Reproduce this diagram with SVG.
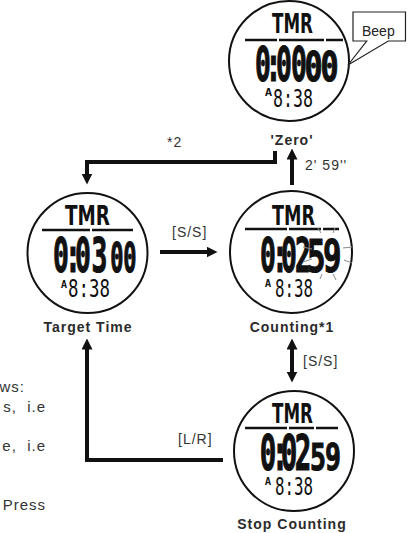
<svg xmlns="http://www.w3.org/2000/svg" width="414" height="533" viewBox="0 0 414 533">
<style>
.ring{fill:#fff;stroke:#111;stroke-width:2}
.tmr{font-family:"DejaVu Sans",sans-serif;font-weight:bold;font-size:27px;fill:#111}
.big{font-family:"DejaVu Sans Mono",monospace;font-weight:bold;font-size:48px;fill:#111;stroke:#111;stroke-width:1.2}
.sm{font-family:"DejaVu Sans Mono",monospace;font-size:24px;fill:#111}
.a{font-family:"DejaVu Sans",sans-serif;font-weight:bold;font-size:11px;fill:#111}
.rule{stroke:#111;stroke-width:2.5}
.ray{stroke:#8a8a8a;stroke-width:1}
.lbl{font-family:"Liberation Sans",Arial,sans-serif;font-weight:bold;font-size:14px;fill:#2b2b2b;letter-spacing:1px;text-anchor:middle}
.txt{font-family:"Liberation Sans",Arial,sans-serif;font-size:14px;fill:#333;letter-spacing:1px}
.frag{font-family:"Liberation Sans",Arial,sans-serif;font-size:15px;fill:#333;letter-spacing:1px;text-anchor:end;white-space:pre}
.wire{fill:none;stroke:#111;stroke-width:4}
.call{fill:#fff;stroke:#222;stroke-width:1.2}
.beep{font-family:"Liberation Sans",Arial,sans-serif;font-size:14px;fill:#222}
</style>
<defs>
<marker id="ah" viewBox="0 0 11 11" refX="0.5" refY="5.5" markerWidth="11" markerHeight="11" markerUnits="userSpaceOnUse" orient="auto-start-reverse"><path d="M0,0 L11,5.5 L0,11 z" fill="#111"/></marker>
</defs>

<g id="connectors">
<path class="wire" d="M275,151 V162 H87 V174" marker-end="url(#ah)"/>
<path class="wire" d="M292,185 V159" marker-end="url(#ah)"/>
<path class="wire" d="M160,252 H207" marker-end="url(#ah)"/>
<path class="wire" d="M292,349 V372" marker-start="url(#ah)" marker-end="url(#ah)"/>
<path class="wire" d="M223,460 H87 V349" marker-end="url(#ah)"/>
<text class="txt" x="167" y="147">*2</text>
<text class="txt" x="305" y="170">2' 59''</text>
<text class="txt" x="172" y="237">[S/S]</text>
<text class="txt" x="303" y="366">[S/S]</text>
<text class="txt" x="178" y="444">[L/R]</text>
</g>

<g id="zero">
<circle class="ring" cx="289" cy="61" r="60"/>
<text class="tmr" x="272" y="33" textLength="41" lengthAdjust="spacingAndGlyphs">TMR</text>
<path class="rule" d="M245,40 H277 M279,40 H324 M326,40 H343"/>
<text class="big" transform="translate(255,81) scale(0.55,1)"><tspan x="0">0</tspan><tspan x="19.3">:</tspan><tspan x="38.2">0</tspan><tspan x="65.5">0</tspan></text>
<text class="big" style="font-size:40px" transform="translate(304.6,81) scale(0.75,1)"><tspan x="0">0</tspan><tspan x="21.3">0</tspan></text>
<text class="a" x="265" y="96" textLength="7" lengthAdjust="spacingAndGlyphs">A</text>
<text class="sm" x="273" y="107" textLength="40" lengthAdjust="spacingAndGlyphs">8:38</text>
<text class="lbl" x="292" y="145">'Zero'</text>
</g>

<g id="beep">
<polygon class="call" points="353,12 405.5,12 405.5,41 388.3,41 348,65 366.7,41 353,41"/>
<text class="beep" x="362" y="36">Beep</text>
</g>

<g id="target">
<circle class="ring" cx="87.5" cy="253" r="60"/>
<text class="tmr" x="65" y="225" textLength="45" lengthAdjust="spacingAndGlyphs">TMR</text>
<path class="rule" d="M42,230 H90 M92,230 H133"/>
<text class="big" transform="translate(53,272) scale(0.55,1)"><tspan x="0">0</tspan><tspan x="22">:</tspan><tspan x="40">0</tspan><tspan x="70">3</tspan><tspan x="104" style="font-size:40px">0</tspan><tspan x="127.6" style="font-size:40px">0</tspan></text>
<text class="a" x="61" y="288" textLength="6" lengthAdjust="spacingAndGlyphs">A</text>
<text class="sm" x="68" y="297" textLength="42" lengthAdjust="spacingAndGlyphs">8:38</text>
<text class="lbl" x="88" y="332">Target Time</text>
</g>

<g id="counting">
<circle class="ring" cx="291" cy="252" r="61"/>
<text class="tmr" x="272" y="225" textLength="43" lengthAdjust="spacingAndGlyphs">TMR</text>
<path class="rule" d="M245,229 H287 M289,229 H321 M323,229 H339"/>
<text class="big" transform="translate(260,272) scale(0.55,1)"><tspan x="0">0</tspan><tspan x="22">:</tspan><tspan x="38.2">0</tspan><tspan x="63.6">2</tspan></text>
<text class="big" style="font-size:44px" transform="translate(307,272) scale(0.7,1)"><tspan x="0">5</tspan><tspan x="22.9">9</tspan></text>
<path class="ray" d="M318,228 L321,233 M335,228 L333,233 M303,247 L312,249 M343,248 L352,247 M303,262 L312,259 M344,260 L352,263 M320,279 L322,274 M333,274 L336,280"/>
<text class="a" x="265" y="287" textLength="6" lengthAdjust="spacingAndGlyphs">A</text>
<text class="sm" x="275" y="297" textLength="38" lengthAdjust="spacingAndGlyphs">8:38</text>
<text class="lbl" x="292" y="332">Counting*1</text>
</g>

<g id="stop">
<circle class="ring" cx="294" cy="451" r="60"/>
<text class="tmr" x="272" y="423" textLength="41" lengthAdjust="spacingAndGlyphs">TMR</text>
<path class="rule" d="M245,428 H287 M289,428 H314 M316,428 H338"/>
<text class="big" style="font-size:50px" transform="translate(259.8,470) scale(0.55,1)"><tspan x="0">0</tspan><tspan x="21.6">:</tspan><tspan x="38.2">0</tspan><tspan x="63.6">2</tspan></text>
<text class="big" style="font-size:38px" transform="translate(309.9,470) scale(0.7,1)"><tspan x="0">5</tspan><tspan x="21.4">9</tspan></text>
<text class="a" x="265" y="485" textLength="6" lengthAdjust="spacingAndGlyphs">A</text>
<text class="sm" x="275" y="495" textLength="38" lengthAdjust="spacingAndGlyphs">8:38</text>
<text class="lbl" x="292" y="529">Stop Counting</text>
</g>

<g id="notes">
<text class="frag" x="25" y="392">ws:</text>
<text class="frag" x="46" y="412">s,  i.e</text>
<text class="frag" x="46" y="451">e,  i.e</text>
<text class="frag" x="46" y="510">Press</text>
</g>
</svg>
